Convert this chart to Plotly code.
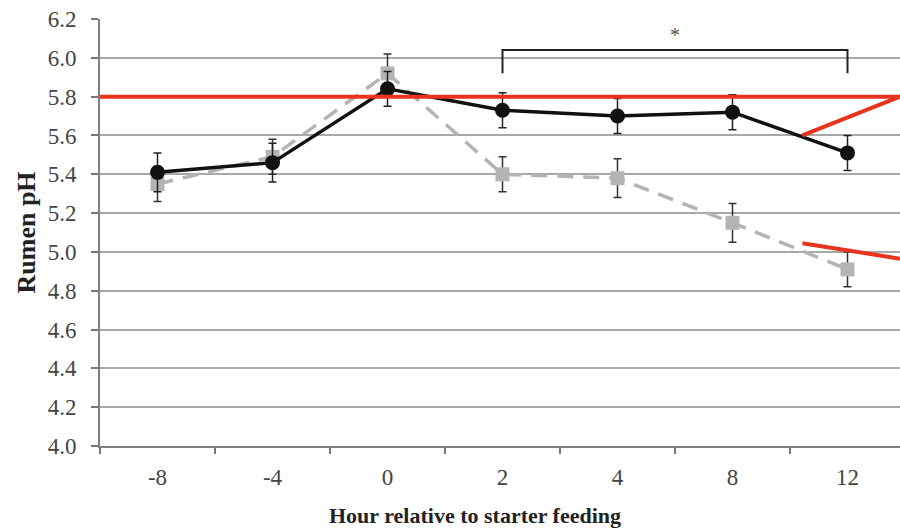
import plotly.graph_objects as go

hours = ["-8", "-4", "0", "2", "4", "8", "12"]
control_ph = [5.41, 5.46, 5.84, 5.73, 5.70, 5.72, 5.51]
control_err = [0.10, 0.10, 0.09, 0.09, 0.09, 0.09, 0.09]
treat_ph = [5.35, 5.49, 5.92, 5.40, 5.38, 5.15, 4.91]
treat_err = [0.09, 0.09, 0.10, 0.09, 0.10, 0.10, 0.09]
y_ticks = [4.0, 4.2, 4.4, 4.6, 4.8, 5.0, 5.2, 5.4, 5.6, 5.8, 6.0, 6.2]
threshold = 5.8
bracket_from, bracket_to = "2", "12"
bracket_y, bracket_drop = 6.04, 5.92
star_label = "*"

RED = "#e8341c"
FONT = "Liberation Serif"

fig = go.Figure()
fig.add_trace(go.Scatter(
    x=hours, y=treat_ph, mode="lines+markers",
    line=dict(color="#b4b4b4", width=3.5, dash="16px,10px"),
    marker=dict(symbol="square", size=14, color="#b4b4b4"),
    error_y=dict(type="data", array=treat_err, color="#333333", thickness=1.5, width=4),
    showlegend=False,
))
fig.add_trace(go.Scatter(
    x=hours, y=control_ph, mode="lines+markers",
    line=dict(color="#111111", width=3.5),
    marker=dict(symbol="circle", size=15, color="#111111"),
    error_y=dict(type="data", array=control_err, color="#222222", thickness=1.5, width=4),
    showlegend=False,
))

i0 = hours.index(bracket_from)
i1 = hours.index(bracket_to)
shapes = [
    dict(type="line", xref="paper", yref="y", x0=0, x1=1, y0=threshold, y1=threshold,
         line=dict(color=RED, width=4), layer="above"),
    dict(type="line", xref="paper", yref="y", x0=1, x1=0.878, y0=5.8, y1=5.6,
         line=dict(color=RED, width=4), layer="above"),
    dict(type="line", xref="paper", yref="y", x0=0.878, x1=1, y0=5.045, y1=4.965,
         line=dict(color=RED, width=4), layer="above"),
    dict(type="path", xref="x", yref="y",
         path=f"M {i0},{bracket_drop} L {i0},{bracket_y} L {i1},{bracket_y} L {i1},{bracket_drop}",
         line=dict(color="#222222", width=2), layer="above"),
]

annotations = [
    dict(x=(i0 + i1) / 2, y=6.12, xref="x", yref="y", text=star_label, showarrow=False,
         font=dict(family=FONT, size=20, color="#555555")),
    dict(x=0.469, y=-0.1616, xref="paper", yref="paper", text="<b>Hour relative to starter feeding</b>",
         showarrow=False, yanchor="middle", xanchor="center",
         font=dict(family=FONT, size=22, color="#222222")),
    dict(x=-0.0925, y=0.5, xref="paper", yref="paper", text="<b>Rumen pH</b>", textangle=-90,
         showarrow=False, xanchor="center", yanchor="middle",
         font=dict(family=FONT, size=26, color="#222222")),
]

fig.update_layout(
    width=900, height=528,
    margin=dict(l=100, r=0, t=19, b=82),
    paper_bgcolor="white", plot_bgcolor="white",
    font=dict(family=FONT, size=23, color="#444444"),
    shapes=shapes, annotations=annotations,
    showlegend=False,
)
fig.update_xaxes(
    type="category", categoryorder="array", categoryarray=hours,
    range=[-0.5, -0.5 + 800 / 115],
    tickson="boundaries", ticks="outside", ticklen=6, tickcolor="#777777", tickwidth=1.5,
    showline=True, linecolor="#808080", linewidth=2,
    showgrid=False, zeroline=False, ticklabelstandoff=9,
    tickfont=dict(family=FONT, size=23, color="#444444"),
)
fig.update_yaxes(
    range=[4.0, 6.2], tickvals=y_ticks, ticktext=[f"{v:.1f}" for v in y_ticks],
    ticks="outside", ticklen=7, tickcolor="#777777", tickwidth=1.5,
    showline=True, linecolor="#808080", linewidth=2, ticklabelstandoff=10,
    showgrid=True, gridcolor="#a8a8a8", gridwidth=1.5, zeroline=False,
    tickfont=dict(family=FONT, size=23, color="#444444"),
)

fig.write_html("out.html", config={"displayModeBar": False},
               post_script="document.body.style.margin='0';document.body.style.overflow='hidden';")
